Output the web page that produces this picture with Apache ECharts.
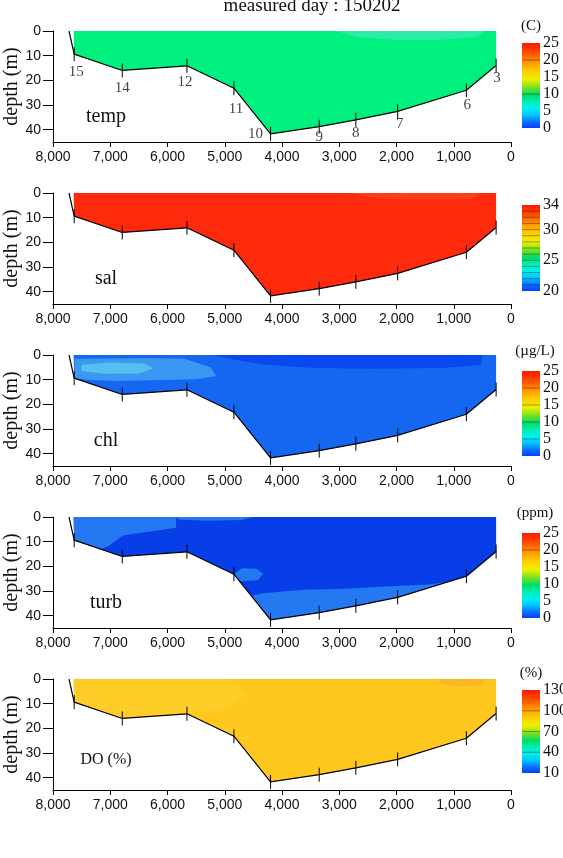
<!DOCTYPE html>
<html><head><meta charset="utf-8">
<script src="https://cdn.jsdelivr.net/npm/echarts@6/dist/echarts.min.js"></script>
<style>html,body{margin:0;padding:0;background:#fff}#c{width:563px;height:858px}</style>
</head><body><div id="c"></div>
<script>
// ---------------- data ----------------
const stationIds   = ['15','14','12','11','10','9','8','7','6','3'];
const stationDist  = [7630, 6790, 5660, 4840, 4200, 3350, 2710, 1980, 780, 260];
const stationDepth = [9.4, 16, 14.1, 23.2, 41.7, 38.8, 36, 32.6, 24, 14];
const bankTop = [7720, 0];             // left bank line starts at surface
const xTickValues = [0,1000,2000,3000,4000,5000,6000,7000,8000];
const depthTicks = [0,10,20,30,40];
const panelNames = ['temp','sal','chl','turb','DO (%)'];
const unitNames  = ['(C)','','(µg/L)','(ppm)','(%)'];
const scaleMin = [0, 20, 0, 0, 10];
const scaleMax = [25, 34, 25, 25, 130];
const scaleTicks = [[0,5,10,15,20,25],[20,25,30,34],[0,5,10,15,20,25],[0,5,10,15,20,25],[10,40,70,100,130]];
const scaleLines = [[10,20],[21,22,23,24,25,26,27,28,29,30,31,32,33],[5,10,15,20],[20],[40,70,100]];
const titleText = 'measured day : 150202';

// filled zones (distance m, depth m) per panel, drawn over the base section
const tempZones = [
  {pts:[[3050,0],[450,0],[600,2.4],[1200,3.5],[2000,3.7],[2700,2.4]], c:'#2aeca6'}
];
const salZones = [
  {pts:[[2800,0],[560,0],[700,2.5],[1500,2.9],[2300,2.3]], c:'#ff3d1c'}
];
const chlZones = [
  {pts:[[7620,1.5],[6300,1.2],[5700,1.5],[5250,5],[5150,8.5],[5500,9.8],[6300,10.2],[6900,10.5],[7400,10],[7630,9.4]], c:'#3a98f2'},
  {pts:[[7500,4],[7000,3],[6400,3.4],[6250,5.5],[6500,7.5],[7100,7.6],[7500,6.5]], c:'#55c0f0'},
  {pts:[[5200,0],[500,0],[520,4],[1200,5.3],[2500,5.6],[3500,5.2],[4300,4],[4800,2]], c:'#0848ee'}
];
const turbZones = [
  {pts:[[7640,0],[5850,0],[5850,4.4],[6780,7.5],[7030,11.8],[7150,13],[7630,9.4]], c:'#2478f2'},
  {pts:[[5850,0],[4530,0],[4700,1.2],[5300,1.5],[5800,1]], c:'#2478f2'},
  {pts:[[4840,23.2],[4700,20.8],[4450,21],[4330,23],[4420,25.6],[4745,26]], c:'#2478f2'},
  {pts:[[4540,31.9],[4350,31],[3900,30],[3600,29.5],[3000,29.2],[2500,28.6],[2000,28],[1500,27.5],[1100,26.5],[780,24],[1980,32.6],[2710,36],[3350,38.8],[4200,41.7]], c:'#2478f2'}
];
const doZones = [
  {pts:[[7640,0],[5000,0],[4600,6],[5000,12],[5660,14.1],[6790,16],[7630,9.4]], c:'#ffcd28'},
  {pts:[[1300,0],[450,0],[520,2.5],[900,3],[1200,2]], c:'#fdb624'}
];
const baseColors = ['#00f080','#ff2a0c','#1566f0','#083ee8','#fec81e'];
const zonesByPanel = [tempZones, salZones, chlZones, turbZones, doZones];

// ---------------- layout / style ----------------
const gridTops = [31, 193, 355, 517, 679];
const gridH = 111;
const cbTops = [43, 205, 371, 533, 690];
const cbH = [85, 86, 85, 85, 83];
const labelOffsets = [[2,18],[0,18],[-2,16],[2,21],[-15,0],[0,10],[0,13],[2,13],[1,15],[1,13]];
const cmap = [
  [0.00,'#0a3cff'],[0.08,'#0a78ff'],[0.15,'#00c4ff'],[0.23,'#00f0f0'],[0.31,'#00eeb0'],
  [0.39,'#00dc6a'],[0.47,'#70e020'],[0.57,'#eef000'],[0.67,'#ffcc00'],[0.77,'#ff9a00'],
  [0.88,'#ff5000'],[1.00,'#ff1800']
];
const serif = 'Liberation Serif';
const sans = 'Liberation Sans';

const sectionPoly = [[7640,0]].concat(stationDist.map((d,i)=>[d,stationDepth[i]])).concat([[stationDist[stationDist.length-1],0]]);
const bankLine = [bankTop].concat(stationDist.map((d,i)=>[d,stationDepth[i]]));

const pGrids=[], pX=[], pY=[], cGrids=[], cX=[], cY=[], series=[], graphics=[];

function polySeries(idx, pts, color, z){
  return {type:'custom', xAxisIndex:idx, yAxisIndex:idx, silent:true, z:z,
    data: pts, clip:false,
    renderItem:(params, api)=>{
      if (params.dataIndex!==0) return null;
      return {type:'polygon', shape:{points: pts.map(p=>api.coord(p))}, style:{fill:color}};
    }};
}

for (let i=0;i<5;i++){
  pGrids.push({left:53, width:458, top:gridTops[i], height:gridH, outerBoundsMode:'none', containLabel:false});
  pX.push({gridIndex:i, type:'value', min:0, max:8000, interval:1000, inverse:true,
    axisLine:{onZero:false, lineStyle:{color:'#000', width:1}},
    axisTick:{length:5, lineStyle:{color:'#000'}},
    axisLabel:{color:'#111', fontFamily:sans, fontSize:14, margin:8,
      formatter:v=>Number(v).toLocaleString('en-US')},
    splitLine:{show:false}});
  pY.push({gridIndex:i, type:'value', min:0, max:45, inverse:true,
    axisLine:{show:true, onZero:false, lineStyle:{color:'#000'}},
    axisTick:{show:true, length:10, customValues:depthTicks, lineStyle:{color:'#000'}},
    axisLabel:{customValues:depthTicks, color:'#111', fontFamily:sans, fontSize:14, margin:12},
    splitLine:{show:false},
    name:'depth (m)', nameLocation:'middle', nameGap:31, nameMoveOverlap:false,
    nameTextStyle:{fontFamily:serif, fontSize:20, color:'#111'}});

  series.push(polySeries(i, sectionPoly, baseColors[i], 1));
  zonesByPanel[i].forEach(zn=>series.push(polySeries(i, zn.pts, zn.c, 2)));

  series.push({type:'line', xAxisIndex:i, yAxisIndex:i, data:bankLine, symbol:'none', silent:true, z:5,
    lineStyle:{color:'#000', width:1.2}, animation:false});
  series.push({type:'custom', xAxisIndex:i, yAxisIndex:i, silent:true, z:6, clip:false,
    data: stationDist.map((d,k)=>[d, stationDepth[k]]),
    renderItem:(params, api)=>{
      const p = api.coord([api.value(0), api.value(1)]);
      return {type:'line', shape:{x1:p[0], y1:p[1]-7, x2:p[0], y2:p[1]+7}, style:{stroke:'#000', lineWidth:1}};
    }});
  if (i===0){
    series.push({type:'scatter', xAxisIndex:i, yAxisIndex:i, symbolSize:1, silent:true, z:7,
      itemStyle:{color:'rgba(0,0,0,0)'},
      data: stationDist.map((d,k)=>({name:stationIds[k], value:[d, stationDepth[k]],
        label:{offset:labelOffsets[k]}})),
      label:{show:true, position:'inside', formatter:p=>p.name, color:'#111', fontFamily:serif, fontSize:15}});
  }

  // colorbar
  const g = 5+i;
  cGrids.push({left:522, width:18, top:cbTops[i], height:cbH[i], outerBoundsMode:'none', containLabel:false});
  cX.push({gridIndex:g, type:'value', min:0, max:1, show:false});
  cY.push({gridIndex:g, type:'value', min:scaleMin[i], max:scaleMax[i], position:'right',
    axisLine:{show:false}, axisTick:{show:false}, splitLine:{show:false},
    axisLabel:{customValues:scaleTicks[i], margin:3, color:'#111', fontFamily:serif, fontSize:16}});
  const lo=scaleMin[i], hi=scaleMax[i], lines=scaleLines[i];
  series.push({type:'custom', xAxisIndex:g, yAxisIndex:g, silent:true, clip:false, data:[[0,lo]],
    renderItem:(params, api)=>{
      const a = api.coord([0,hi]), b = api.coord([1,lo]);
      const stops = cmap.map(s=>({offset:1-s[0], color:s[1]})).reverse();
      const kids = [{type:'rect', shape:{x:a[0], y:a[1], width:b[0]-a[0], height:b[1]-a[1]},
        style:{fill:new echarts.graphic.LinearGradient(0,0,0,1,stops)}}];
      lines.forEach(v=>{
        const p=api.coord([0,v]), q=api.coord([1,v]);
        kids.push({type:'line', shape:{x1:p[0], y1:p[1], x2:q[0], y2:q[1]}, style:{stroke:'rgba(0,0,0,0.35)', lineWidth:1}});
      });
      return {type:'group', children:kids};
    }});

  // panel name & unit
  graphics.push({type:'text', x:106, y:gridTops[i]+(i===4?81:86), style:{text:panelNames[i],
    font:(i===4?'16px ':'20px ')+serif, fill:'#111', align:'center', verticalAlign:'middle'}});
  if (unitNames[i]) graphics.push({type:'text', x:(i===0||i===4)?531:535, y:cbTops[i]-(i===0||i===4?17:20),
    style:{text:unitNames[i], font:'15px '+serif, fill:'#111', align:'center', verticalAlign:'middle'}});
}
graphics.push({type:'text', x:312, y:6, style:{text:titleText, font:'19px '+serif, fill:'#111', align:'center', verticalAlign:'middle'}});

const chart = echarts.init(document.getElementById('c'), null, {renderer:'canvas'});
chart.setOption({animation:false, backgroundColor:'#fff',
  grid:pGrids.concat(cGrids), xAxis:pX.concat(cX), yAxis:pY.concat(cY),
  series:series, graphic:graphics});
</script></body></html>
